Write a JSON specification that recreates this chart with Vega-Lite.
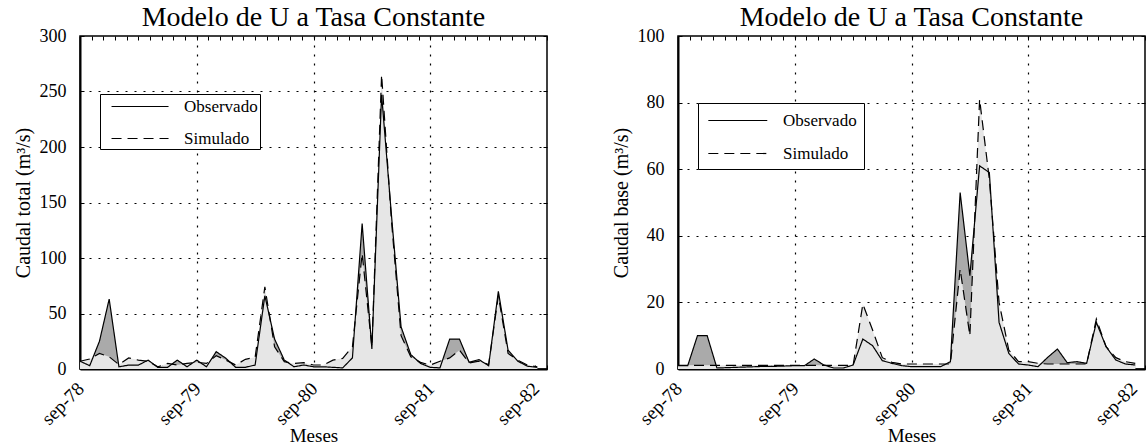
{
"$schema": "https://vega.github.io/schema/vega-lite/v6.json",
"autosize": {"type": "pad"},
"padding": {"left": 12, "top": 3, "right": 3, "bottom": 5},
"background": "white",
"config": {
  "view": {"stroke": "black", "strokeWidth": 1.5},
  "font": "Liberation Serif",
  "axis": {"labelFont": "Liberation Serif", "labelColor": "black", "labelFontSize": 18, "titleFont": "Liberation Serif", "titleFontSize": 20, "titleFontWeight": "normal", "titleColor": "black", "tickColor": "black", "tickSize": -4, "tickWidth": 1, "domainColor": "black", "domainWidth": 2, "gridColor": "black", "gridDash": [2, 7], "gridWidth": 1.2, "labelFlush": false, "labelOverlap": false, "labelBound": false},
  "title": {"font": "Liberation Serif", "fontSize": 28, "fontWeight": "normal", "color": "black", "anchor": "middle", "baseline": "alphabetic", "offset": -5}
},
"datasets": {
  "total": [
    {"t":0,"serie":"Observado","q":7},{"t":1,"serie":"Observado","q":3},{"t":2,"serie":"Observado","q":25},{"t":3,"serie":"Observado","q":63},{"t":4,"serie":"Observado","q":2},{"t":5,"serie":"Observado","q":3.5},{"t":6,"serie":"Observado","q":3.5},{"t":7,"serie":"Observado","q":8},{"t":8,"serie":"Observado","q":1.5},{"t":9,"serie":"Observado","q":1.5},{"t":10,"serie":"Observado","q":8},{"t":11,"serie":"Observado","q":2},{"t":12,"serie":"Observado","q":8},{"t":13,"serie":"Observado","q":2},{"t":14,"serie":"Observado","q":15.6},{"t":15,"serie":"Observado","q":9.6},{"t":16,"serie":"Observado","q":1.5},{"t":17,"serie":"Observado","q":1.5},{"t":18,"serie":"Observado","q":3.6},{"t":19,"serie":"Observado","q":66},{"t":20,"serie":"Observado","q":27},{"t":21,"serie":"Observado","q":8},{"t":22,"serie":"Observado","q":2},{"t":23,"serie":"Observado","q":3.6},{"t":24,"serie":"Observado","q":2},{"t":25,"serie":"Observado","q":2},{"t":26,"serie":"Observado","q":1.5},{"t":27,"serie":"Observado","q":1},{"t":28,"serie":"Observado","q":10},{"t":29,"serie":"Observado","q":131},{"t":30,"serie":"Observado","q":18},{"t":31,"serie":"Observado","q":247},{"t":32,"serie":"Observado","q":140},{"t":33,"serie":"Observado","q":38},{"t":34,"serie":"Observado","q":13},{"t":35,"serie":"Observado","q":5},{"t":36,"serie":"Observado","q":1.5},{"t":37,"serie":"Observado","q":1},{"t":38,"serie":"Observado","q":27},{"t":39,"serie":"Observado","q":27},{"t":40,"serie":"Observado","q":6},{"t":41,"serie":"Observado","q":8.5},{"t":42,"serie":"Observado","q":3},{"t":43,"serie":"Observado","q":70},{"t":44,"serie":"Observado","q":17},{"t":45,"serie":"Observado","q":7},{"t":46,"serie":"Observado","q":2.5},{"t":47,"serie":"Observado","q":1.5},
    {"t":0,"serie":"Simulado","q":7},{"t":1,"serie":"Simulado","q":9},{"t":2,"serie":"Simulado","q":14},{"t":3,"serie":"Simulado","q":11},{"t":4,"serie":"Simulado","q":4},{"t":5,"serie":"Simulado","q":10},{"t":6,"serie":"Simulado","q":8},{"t":7,"serie":"Simulado","q":7},{"t":8,"serie":"Simulado","q":2},{"t":9,"serie":"Simulado","q":5},{"t":10,"serie":"Simulado","q":3.6},{"t":11,"serie":"Simulado","q":5},{"t":12,"serie":"Simulado","q":6},{"t":13,"serie":"Simulado","q":5},{"t":14,"serie":"Simulado","q":12},{"t":15,"serie":"Simulado","q":8},{"t":16,"serie":"Simulado","q":3.6},{"t":17,"serie":"Simulado","q":8.7},{"t":18,"serie":"Simulado","q":10.5},{"t":19,"serie":"Simulado","q":74},{"t":20,"serie":"Simulado","q":20},{"t":21,"serie":"Simulado","q":6.6},{"t":22,"serie":"Simulado","q":5},{"t":23,"serie":"Simulado","q":5.7},{"t":24,"serie":"Simulado","q":3.6},{"t":25,"serie":"Simulado","q":3.6},{"t":26,"serie":"Simulado","q":8},{"t":27,"serie":"Simulado","q":9.6},{"t":28,"serie":"Simulado","q":20},{"t":29,"serie":"Simulado","q":104},{"t":30,"serie":"Simulado","q":20},{"t":31,"serie":"Simulado","q":265},{"t":32,"serie":"Simulado","q":135},{"t":33,"serie":"Simulado","q":30},{"t":34,"serie":"Simulado","q":11},{"t":35,"serie":"Simulado","q":6},{"t":36,"serie":"Simulado","q":3.5},{"t":37,"serie":"Simulado","q":7},{"t":38,"serie":"Simulado","q":10},{"t":39,"serie":"Simulado","q":17},{"t":40,"serie":"Simulado","q":5.5},{"t":41,"serie":"Simulado","q":7},{"t":42,"serie":"Simulado","q":4},{"t":43,"serie":"Simulado","q":66},{"t":44,"serie":"Simulado","q":14},{"t":45,"serie":"Simulado","q":8},{"t":46,"serie":"Simulado","q":3.5},{"t":47,"serie":"Simulado","q":2}
  ],
  "base": [
    {"t":0,"serie":"Observado","q":1},{"t":1,"serie":"Observado","q":1},{"t":2,"serie":"Observado","q":10},{"t":3,"serie":"Observado","q":10},{"t":4,"serie":"Observado","q":0.3},{"t":5,"serie":"Observado","q":0.4},{"t":6,"serie":"Observado","q":0.5},{"t":7,"serie":"Observado","q":0.6},{"t":8,"serie":"Observado","q":0.7},{"t":9,"serie":"Observado","q":0.8},{"t":10,"serie":"Observado","q":0.8},{"t":11,"serie":"Observado","q":0.9},{"t":12,"serie":"Observado","q":1},{"t":13,"serie":"Observado","q":1},{"t":14,"serie":"Observado","q":3},{"t":15,"serie":"Observado","q":1.2},{"t":16,"serie":"Observado","q":0.3},{"t":17,"serie":"Observado","q":0.3},{"t":18,"serie":"Observado","q":1.2},{"t":19,"serie":"Observado","q":9},{"t":20,"serie":"Observado","q":7},{"t":21,"serie":"Observado","q":2.5},{"t":22,"serie":"Observado","q":1.7},{"t":23,"serie":"Observado","q":1},{"t":24,"serie":"Observado","q":0.7},{"t":25,"serie":"Observado","q":0.7},{"t":26,"serie":"Observado","q":0.7},{"t":27,"serie":"Observado","q":0.7},{"t":28,"serie":"Observado","q":2.2},{"t":29,"serie":"Observado","q":53},{"t":30,"serie":"Observado","q":28},{"t":31,"serie":"Observado","q":61},{"t":32,"serie":"Observado","q":59},{"t":33,"serie":"Observado","q":14},{"t":34,"serie":"Observado","q":4.7},{"t":35,"serie":"Observado","q":1.5},{"t":36,"serie":"Observado","q":1.2},{"t":37,"serie":"Observado","q":0.7},{"t":38,"serie":"Observado","q":3.5},{"t":39,"serie":"Observado","q":6},{"t":40,"serie":"Observado","q":1.9},{"t":41,"serie":"Observado","q":2.2},{"t":42,"serie":"Observado","q":1.7},{"t":43,"serie":"Observado","q":14},{"t":44,"serie":"Observado","q":6.7},{"t":45,"serie":"Observado","q":2.7},{"t":46,"serie":"Observado","q":1.5},{"t":47,"serie":"Observado","q":1.2},
    {"t":0,"serie":"Simulado","q":1.1},{"t":1,"serie":"Simulado","q":1.1},{"t":2,"serie":"Simulado","q":1.1},{"t":3,"serie":"Simulado","q":1.1},{"t":4,"serie":"Simulado","q":1.1},{"t":5,"serie":"Simulado","q":1.1},{"t":6,"serie":"Simulado","q":1.1},{"t":7,"serie":"Simulado","q":1.1},{"t":8,"serie":"Simulado","q":1.1},{"t":9,"serie":"Simulado","q":1.1},{"t":10,"serie":"Simulado","q":1.1},{"t":11,"serie":"Simulado","q":1.1},{"t":12,"serie":"Simulado","q":1.1},{"t":13,"serie":"Simulado","q":1.1},{"t":14,"serie":"Simulado","q":1.1},{"t":15,"serie":"Simulado","q":1.1},{"t":16,"serie":"Simulado","q":1.1},{"t":17,"serie":"Simulado","q":1.1},{"t":18,"serie":"Simulado","q":1.1},{"t":19,"serie":"Simulado","q":19.5},{"t":20,"serie":"Simulado","q":11.7},{"t":21,"serie":"Simulado","q":3.4},{"t":22,"serie":"Simulado","q":2},{"t":23,"serie":"Simulado","q":1.5},{"t":24,"serie":"Simulado","q":1.5},{"t":25,"serie":"Simulado","q":1.5},{"t":26,"serie":"Simulado","q":1.5},{"t":27,"serie":"Simulado","q":1.5},{"t":28,"serie":"Simulado","q":1.5},{"t":29,"serie":"Simulado","q":30},{"t":30,"serie":"Simulado","q":10},{"t":31,"serie":"Simulado","q":81},{"t":32,"serie":"Simulado","q":57},{"t":33,"serie":"Simulado","q":20},{"t":34,"serie":"Simulado","q":5.7},{"t":35,"serie":"Simulado","q":2.2},{"t":36,"serie":"Simulado","q":2.2},{"t":37,"serie":"Simulado","q":1.7},{"t":38,"serie":"Simulado","q":1.5},{"t":39,"serie":"Simulado","q":1.5},{"t":40,"serie":"Simulado","q":1.5},{"t":41,"serie":"Simulado","q":1.5},{"t":42,"serie":"Simulado","q":1.5},{"t":43,"serie":"Simulado","q":15},{"t":44,"serie":"Simulado","q":6.7},{"t":45,"serie":"Simulado","q":3.4},{"t":46,"serie":"Simulado","q":2.2},{"t":47,"serie":"Simulado","q":1.7}
  ]
},
"bounds": "flush",
"spacing": 131,
"hconcat": [
  {
    "width": 467, "height": 333,
    "title": "Modelo de U a Tasa Constante",
    "data": {"name": "total"},
    "layer": [
      {
        "transform": [{"filter": "datum.serie == 'Observado'"}],
        "mark": {"type": "area", "color": "#aaaaaa", "opacity": 1},
        "encoding": {
          "x": {"field": "t", "type": "quantitative", "scale": {"domain": [0, 48], "nice": false},
            "axis": {"orient": "bottom", "values": [0,1.2,2.4,3.6,4.8,6,7.2,8.4,9.6,10.8,12,13.2,14.4,15.6,16.8,18,19.2,20.4,21.6,22.8,24,25.2,26.4,27.6,28.8,30,31.2,32.4,33.6,34.8,36,37.2,38.4,39.6,40.8,42,43.2,44.4,45.6,46.8,48],
              "labelExpr": "datum.value == 0 ? 'sep-78' : datum.value == 12 ? 'sep-79' : datum.value == 24 ? 'sep-80' : datum.value == 36 ? 'sep-81' : abs(datum.value - 46.8) < 0.01 ? 'sep-82' : ''",
              "labelAngle": -45, "labelFontSize": 19, "labelPadding": 14, "labelOffset": -6, "grid": true,
              "gridOpacity": {"condition": {"test": "datum.value == 12 || datum.value == 24 || datum.value == 36", "value": 1}, "value": 0},
              "title": "Meses", "titleFontSize": 19, "titleY": 66, "titleBaseline": "middle"}},
          "y": {"field": "q", "type": "quantitative", "scale": {"domain": [0, 300], "nice": false},
            "axis": {"orient": "left", "values": [0,50,100,150,200,250,300], "labelPadding": 18, "grid": true,
              "gridOpacity": {"condition": {"test": "datum.value > 0 && datum.value < 300", "value": 1}, "value": 0},
              "title": "Caudal total (m³/s)", "titleX": -57, "titleY": 166.5, "titleBaseline": "middle", "titleAngle": -90}}
        }
      },
      {
        "transform": [{"filter": "datum.serie == 'Simulado'"}],
        "mark": {"type": "area", "color": "#e6e6e6", "opacity": 1},
        "encoding": {
          "x": {"field": "t", "type": "quantitative", "scale": {"domain": [0, 48], "nice": false},
            "axis": {"orient": "top", "values": [0,1.2,2.4,3.6,4.8,6,7.2,8.4,9.6,10.8,12,13.2,14.4,15.6,16.8,18,19.2,20.4,21.6,22.8,24,25.2,26.4,27.6,28.8,30,31.2,32.4,33.6,34.8,36,37.2,38.4,39.6,40.8,42,43.2,44.4,45.6,46.8,48], "labels": false, "grid": false, "domain": false, "title": null}},
          "y": {"field": "q", "type": "quantitative", "scale": {"domain": [0, 300], "nice": false},
            "axis": {"orient": "right", "values": [0,50,100,150,200,250,300], "labels": false, "grid": false, "domain": false, "title": null}}
        }
      },
      {
        "mark": {"type": "line", "color": "black", "strokeWidth": 1.2},
        "encoding": {
          "x": {"field": "t", "type": "quantitative", "scale": {"domain": [0, 48], "nice": false}, "axis": null},
          "y": {"field": "q", "type": "quantitative", "scale": {"domain": [0, 300], "nice": false}, "axis": null},
          "strokeDash": {"field": "serie", "type": "nominal", "scale": {"domain": ["Observado", "Simulado"], "range": [[1, 0], [10, 6]]},
            "legend": {"orient": "none", "legendX": 20, "legendY": 58, "title": null, "symbolType": "M-0.1,0H5.78", "symbolSize": 376, "symbolStrokeWidth": 1.2, "symbolStrokeColor": "black", "labelFont": "Liberation Serif", "labelFontSize": 17, "labelColor": "black", "labelOffset": 61, "strokeColor": "black", "fillColor": "white", "padding": 2, "rowPadding": 13}}
        }
      }
    ],
    "resolve": {"axis": {"x": "independent", "y": "independent"}}
  },
  {
    "width": 467, "height": 333,
    "title": "Modelo de U a Tasa Constante",
    "data": {"name": "base"},
    "layer": [
      {
        "transform": [{"filter": "datum.serie == 'Observado'"}],
        "mark": {"type": "area", "color": "#aaaaaa", "opacity": 1},
        "encoding": {
          "x": {"field": "t", "type": "quantitative", "scale": {"domain": [0, 48], "nice": false},
            "axis": {"orient": "bottom", "values": [0,1.2,2.4,3.6,4.8,6,7.2,8.4,9.6,10.8,12,13.2,14.4,15.6,16.8,18,19.2,20.4,21.6,22.8,24,25.2,26.4,27.6,28.8,30,31.2,32.4,33.6,34.8,36,37.2,38.4,39.6,40.8,42,43.2,44.4,45.6,46.8,48],
              "labelExpr": "datum.value == 0 ? 'sep-78' : datum.value == 12 ? 'sep-79' : datum.value == 24 ? 'sep-80' : datum.value == 36 ? 'sep-81' : abs(datum.value - 46.8) < 0.01 ? 'sep-82' : ''",
              "labelAngle": -45, "labelFontSize": 19, "labelPadding": 14, "labelOffset": -6, "grid": true,
              "gridOpacity": {"condition": {"test": "datum.value == 12 || datum.value == 24 || datum.value == 36", "value": 1}, "value": 0},
              "title": "Meses", "titleFontSize": 19, "titleY": 66, "titleBaseline": "middle"}},
          "y": {"field": "q", "type": "quantitative", "scale": {"domain": [0, 100], "nice": false},
            "axis": {"orient": "left", "values": [0,20,40,60,80,100], "labelPadding": 18, "grid": true,
              "gridOpacity": {"condition": {"test": "datum.value > 0 && datum.value < 100", "value": 1}, "value": 0},
              "title": "Caudal base (m³/s)", "titleX": -57, "titleY": 166.5, "titleBaseline": "middle", "titleAngle": -90}}
        }
      },
      {
        "transform": [{"filter": "datum.serie == 'Simulado'"}],
        "mark": {"type": "area", "color": "#e6e6e6", "opacity": 1},
        "encoding": {
          "x": {"field": "t", "type": "quantitative", "scale": {"domain": [0, 48], "nice": false},
            "axis": {"orient": "top", "values": [0,1.2,2.4,3.6,4.8,6,7.2,8.4,9.6,10.8,12,13.2,14.4,15.6,16.8,18,19.2,20.4,21.6,22.8,24,25.2,26.4,27.6,28.8,30,31.2,32.4,33.6,34.8,36,37.2,38.4,39.6,40.8,42,43.2,44.4,45.6,46.8,48], "labels": false, "grid": false, "domain": false, "title": null}},
          "y": {"field": "q", "type": "quantitative", "scale": {"domain": [0, 100], "nice": false},
            "axis": {"orient": "right", "values": [0,20,40,60,80,100], "labels": false, "grid": false, "domain": false, "title": null}}
        }
      },
      {
        "mark": {"type": "line", "color": "black", "strokeWidth": 1.2},
        "encoding": {
          "x": {"field": "t", "type": "quantitative", "scale": {"domain": [0, 48], "nice": false}, "axis": null},
          "y": {"field": "q", "type": "quantitative", "scale": {"domain": [0, 100], "nice": false}, "axis": null},
          "strokeDash": {"field": "serie", "type": "nominal", "scale": {"domain": ["Observado", "Simulado"], "range": [[1, 0], [10, 6]]},
            "legend": {"orient": "none", "legendX": 20, "legendY": 67, "title": null, "symbolType": "M-0.74,0H5.34", "symbolSize": 376, "symbolStrokeWidth": 1.2, "symbolStrokeColor": "black", "labelFont": "Liberation Serif", "labelFontSize": 17, "labelColor": "black", "labelOffset": 57, "strokeColor": "black", "fillColor": "white", "padding": 7, "rowPadding": 14}}
        }
      }
    ],
    "resolve": {"axis": {"x": "independent", "y": "independent"}}
  }
],
"resolve": {"scale": {"strokeDash": "independent"}, "legend": {"strokeDash": "independent"}}
}
